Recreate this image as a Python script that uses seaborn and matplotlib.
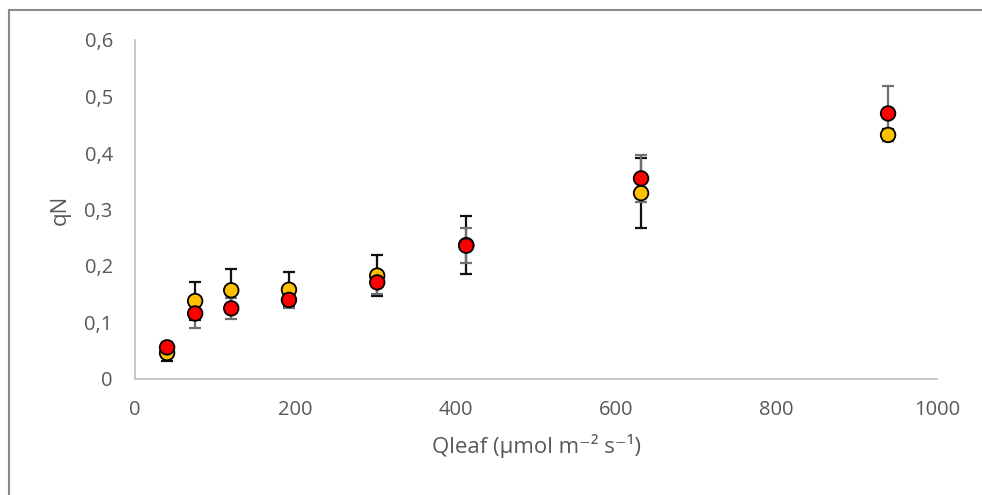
import matplotlib
matplotlib.use("Agg")
import matplotlib.pyplot as plt
from matplotlib.patches import Rectangle
from matplotlib.ticker import FuncFormatter, MultipleLocator
import seaborn as sns
import pandas as pd

# Light intensity at the leaf (µmol m-2 s-1)
qleaf = [40, 75, 120, 192, 302, 413, 631, 939]

# Non-photochemical quenching, two series with their error bars
qn_series1 = [0.046, 0.138, 0.157, 0.158, 0.183, 0.237, 0.329, 0.432]
err_series1 = [0.014, 0.034, 0.038, 0.031, 0.036, 0.052, 0.062, 0.010]
qn_series2 = [0.056, 0.116, 0.125, 0.140, 0.171, 0.236, 0.355, 0.470]
err_series2 = [0.010, 0.026, 0.018, 0.014, 0.021, 0.031, 0.042, 0.048]

series_names = ["Series 1", "Series 2"]
series_colors = ["#FFC000", "#FF0000"]
errbar_colors = ["#111111", "#707070"]

df = pd.concat([
    pd.DataFrame({"Qleaf": qleaf, "qN": qn_series1, "err": err_series1, "series": series_names[0]}),
    pd.DataFrame({"Qleaf": qleaf, "qN": qn_series2, "err": err_series2, "series": series_names[1]}),
], ignore_index=True)

sns.set_style("white")
plt.rcParams["font.family"] = ["Open Sans", "DejaVu Sans"]

fig = plt.figure(figsize=(9.82, 4.95), dpi=100)
ax = fig.add_axes([135 / 982, 1 - 379 / 495, 802 / 982, 339 / 495])

# error bars sit beneath the markers
for name, ec in zip(series_names, errbar_colors):
    sub = df[df["series"] == name]
    ax.errorbar(sub["Qleaf"], sub["qN"], yerr=sub["err"], fmt="none",
                ecolor=ec, elinewidth=1.6, capsize=4.5, capthick=1.6, zorder=2)

sns.scatterplot(data=df, x="Qleaf", y="qN", hue="series", palette=series_colors,
                hue_order=series_names, s=110, edgecolor="black", linewidth=1.3,
                legend=False, zorder=3, ax=ax)

ax.set_xlim(0, 1000)
ax.set_ylim(0, 0.6)
ax.xaxis.set_major_locator(MultipleLocator(200))
ax.yaxis.set_major_locator(MultipleLocator(0.1))
ax.yaxis.set_major_formatter(FuncFormatter(lambda v, p: "0" if abs(v) < 1e-9 else f"{v:.1f}".replace(".", ",")))
ax.xaxis.set_major_formatter(FuncFormatter(lambda v, p: f"{v:.0f}"))

text_color = "#595959"
ax.tick_params(axis="both", length=0, labelsize=14.5, labelcolor=text_color)
ax.tick_params(axis="y", pad=16)
ax.tick_params(axis="x", pad=15)

for side in ["top", "right"]:
    ax.spines[side].set_visible(False)
for side in ["left", "bottom"]:
    ax.spines[side].set_color("#BFBFBF")
    ax.spines[side].set_linewidth(1.2)

ax.set_xlabel("Qleaf (µmol m⁻² s⁻¹)", fontsize=16, color=text_color, labelpad=10)
ax.set_ylabel("qN", fontsize=16, color=text_color, labelpad=10)

# chart frame (its right and bottom edges fall outside the canvas)
frame_top = (495 - 9.5) / 495
fig.patches.append(Rectangle((8.5 / 982, -20 / 495), 1000 / 982, frame_top + 20 / 495,
                             transform=fig.transFigure, fill=False,
                             edgecolor="#898989", linewidth=1.5))

fig.savefig("out.png", dpi=100)
